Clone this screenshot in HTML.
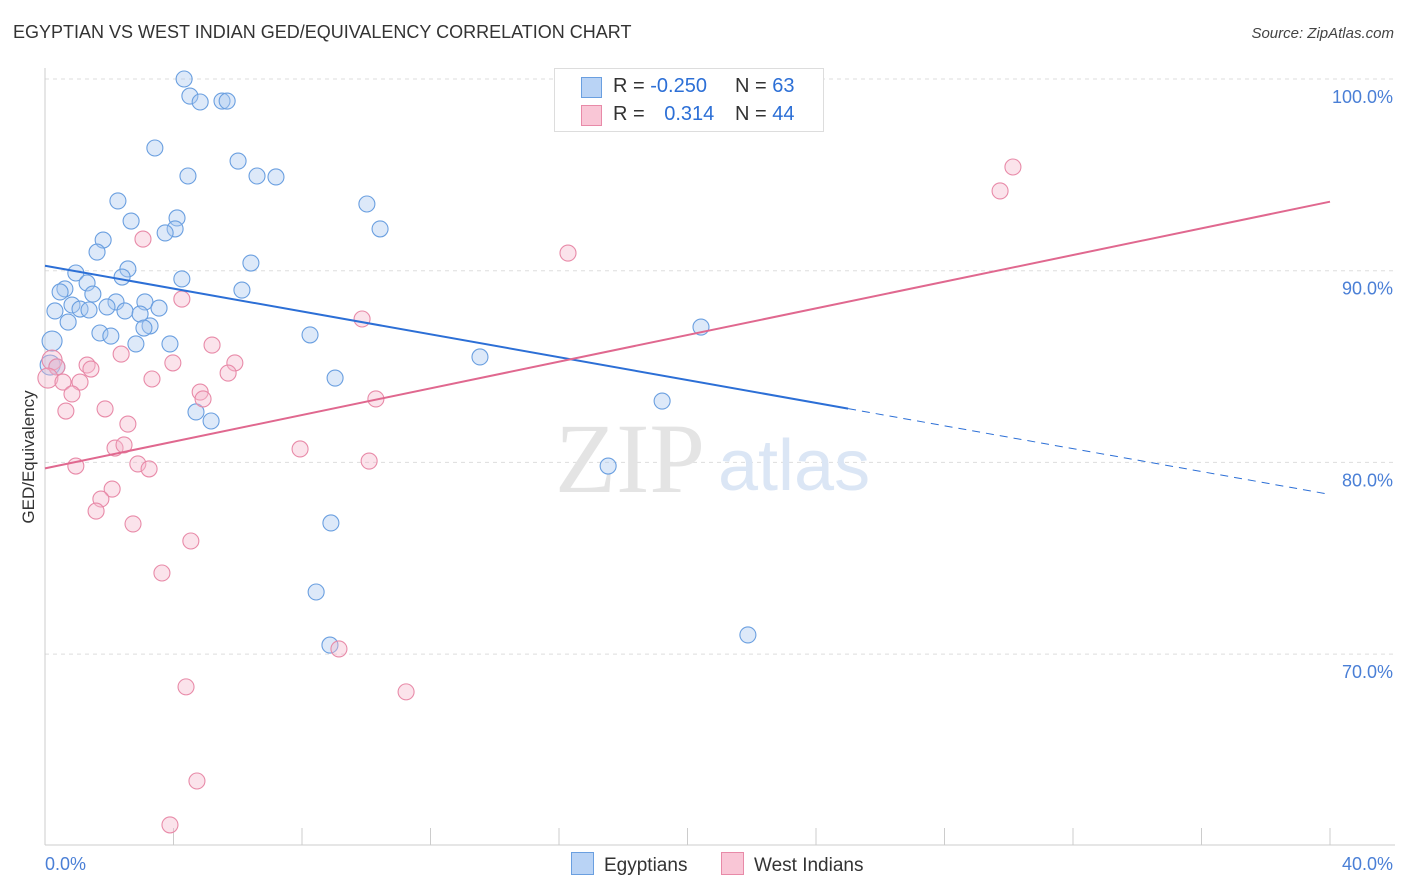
<!DOCTYPE html>
<html><head><meta charset="utf-8"><style>
body{margin:0;background:#fff;font-family:"Liberation Sans",sans-serif;}
#wrap{position:relative;width:1406px;height:892px;overflow:hidden}
.t{position:absolute;white-space:nowrap}
</style></head><body>
<div id="wrap">
<div class="t" style="left:13px;top:22px;font-size:18px;color:#333">EGYPTIAN VS WEST INDIAN GED/EQUIVALENCY CORRELATION CHART</div>
<div class="t" style="right:12px;top:25px;font-size:15px;font-style:italic;color:#444">Source: ZipAtlas.com</div>
<svg id="svg" width="1406" height="892" style="position:absolute;left:0;top:0"></svg>
</div>
<script>
const yTicks=[100,90,80,70];
const blueX=[4.33,4.51,4.83,5.51,5.67,3.42,6.01,4.45,6.60,7.19,2.27,2.68,4.11,4.05,3.74,1.81,1.62,10.02,10.43,6.41,2.58,2.40,0.96,4.26,1.31,0.62,0.47,1.49,6.13,0.84,2.21,1.93,3.11,3.55,0.31,1.09,1.37,2.49,2.96,0.72,3.27,3.08,1.71,2.05,2.83,3.89,8.25,0.22,20.42,13.54,0.16,0.37,9.03,19.21,4.70,5.17,17.53,8.90,8.44,8.87,21.88,18.27];
const blueY=[100.0,99.11,98.80,98.85,98.85,96.40,95.72,94.94,94.94,94.89,93.64,92.59,92.75,92.18,91.97,91.60,90.97,93.48,92.18,90.40,90.09,89.67,89.88,89.57,89.36,89.05,88.89,88.78,88.99,88.21,88.37,88.11,88.37,88.05,87.90,88.00,87.95,87.90,87.74,87.32,87.12,87.01,86.75,86.59,86.18,86.18,86.65,86.33,87.06,85.50,85.08,84.98,84.40,83.20,82.63,82.16,79.81,76.84,73.24,70.47,71.00,100.0];
const pinkX=[30.13,29.73,16.28,3.05,4.26,9.87,5.20,2.37,5.91,3.98,1.31,1.43,0.22,0.37,0.09,0.56,1.09,3.33,5.70,4.83,0.84,4.92,10.30,0.65,1.87,2.58,2.18,2.46,7.94,10.09,2.89,3.24,0.96,2.09,1.74,1.59,2.74,4.54,3.64,9.15,4.39,11.24,4.73,3.89];
const pinkY=[95.41,94.16,90.92,91.65,88.52,87.48,86.12,85.65,85.19,85.19,85.08,84.87,85.34,84.98,84.40,84.19,84.19,84.35,84.66,83.67,83.57,83.31,83.31,82.68,82.79,82.00,80.75,80.91,80.70,80.07,79.92,79.66,79.81,78.61,78.09,77.46,76.79,75.90,74.23,70.27,68.29,68.03,63.38,61.09];
const blueLine=[90.26,78.33], blueSolidEnd=25;
const pinkLine=[79.69,93.6];
const X=v=>45+v*32.125, Y=v=>79+(100-v)*19.17;
const svg=document.getElementById('svg');const NS='http://www.w3.org/2000/svg';
function mk(tag,a){const e=document.createElementNS(NS,tag);for(const k in a)e.setAttribute(k,a[k]);svg.appendChild(e);return e;}
yTicks.forEach(v=>{const g=mk('line',{x1:45,x2:1395,y1:Y(v),y2:Y(v),stroke:'#ddd','stroke-dasharray':'4,4'});


const t=mk('text',{x:1393,y:Y(v)+24,'text-anchor':'end','font-size':18,fill:'#4a7fd6'});t.textContent=v.toFixed(1)+'%';

});
const ax=mk('line',{x1:45,x2:45,y1:68,y2:845,stroke:'#ccc'});


const bx=mk('line',{x1:45,x2:1395,y1:845,y2:845,stroke:'#ccc'});


for(let i=0;i<=10;i++){const l=mk('line',{x1:X(i*4),x2:X(i*4),y1:828,y2:845,stroke:'#ccc'});

}
[['0.0%',45,'start'],['40.0%',1393,'end']].forEach(a=>{const t=mk('text',{x:a[1],y:870,'text-anchor':a[2],'font-size':18,fill:'#4a7fd6'});t.textContent=a[0];

});
const yl=mk('text',{x:0,y:0,transform:'translate(34,457) rotate(-90)','text-anchor':'middle','font-size':17,fill:'#333'});yl.textContent='GED/Equivalency';


const w1=mk('text',{x:555,y:492,'font-size':100,fill:'#e4e4e4','font-family':'Liberation Serif'});w1.textContent='ZIP';


const w2=mk('text',{x:718,y:490,'font-size':72,fill:'#dbe6f5'});w2.textContent='atlas';


function pts(xs,ys,fill,st,name){xs.forEach((x,i)=>{const big=x<0.25;const c=mk('circle',{cx:X(x),cy:Y(ys[i]),r:big?10:8,fill:fill,'fill-opacity':0.4,stroke:st,'stroke-width':1.1});

});}
pts(blueX,blueY,'#a9c8f0','#6a9fe0','egyptian-point');
pts(pinkX,pinkY,'#f5b8cc','#e88aa8','west-indian-point');
const bl=mk('line',{x1:X(0),y1:Y(blueLine[0]),x2:X(blueSolidEnd),y2:Y(blueLine[0]+(blueLine[1]-blueLine[0])*blueSolidEnd/40),stroke:'#2c6fd6','stroke-width':2});


const bd=mk('line',{x1:X(blueSolidEnd),y1:Y(blueLine[0]+(blueLine[1]-blueLine[0])*blueSolidEnd/40),x2:X(40),y2:Y(blueLine[1]),stroke:'#2c6fd6','stroke-width':1,'stroke-dasharray':'8,6'});


const pl=mk('line',{x1:X(0),y1:Y(pinkLine[0]),x2:X(40),y2:Y(pinkLine[1]),stroke:'#e0688f','stroke-width':2});


</script>
<div class="t" style="left:554px;top:68px;width:268px;height:62px;border:1px solid #ddd;background:#fff;font-size:20px">
<div style="position:absolute;left:26px;top:8px;width:19px;height:19px;background:#b9d3f5;border:1px solid #6a9fe0"></div>
<div class="t" style="left:58px;top:6px;color:#333">R = <span style="color:#2c6fd6">-0.250</span></div>
<div class="t" style="left:180px;top:6px;color:#333">N = <span style="color:#2c6fd6">63</span></div>
<div style="position:absolute;left:26px;top:36px;width:19px;height:19px;background:#f9c6d6;border:1px solid #e88aa8"></div>
<div class="t" style="left:58px;top:34px;color:#333">R = <span style="color:#2c6fd6;margin-left:14px">0.314</span></div>
<div class="t" style="left:180px;top:34px;color:#333">N = <span style="color:#2c6fd6">44</span></div>
</div>
<div class="t" style="left:571px;top:852px;font-size:19px;color:#333"><span style="display:inline-block;width:21px;height:21px;background:#b9d3f5;border:1px solid #6a9fe0;vertical-align:-4px;margin-right:10px"></span>Egyptians</div>
<div class="t" style="left:721px;top:852px;font-size:19px;color:#333"><span style="display:inline-block;width:21px;height:21px;background:#f9c6d6;border:1px solid #e88aa8;vertical-align:-4px;margin-right:10px"></span>West Indians</div>
</body></html>
